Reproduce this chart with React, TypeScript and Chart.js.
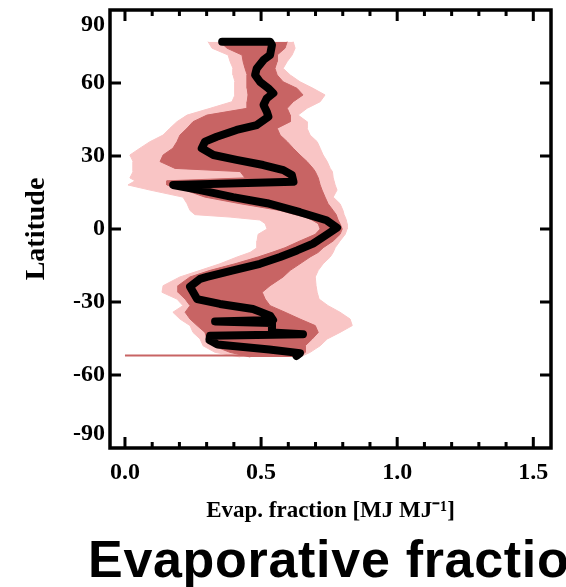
import React, { useEffect, useRef } from 'react';
import { Chart, registerables } from 'chart.js';

Chart.register(...registerables);

// Latitudes (deg) at which the spread bands were read
const bandLat = [77, 74.3, 71.5, 68.8, 66.0, 63.3, 60.5, 57.8, 55.1, 52.3,
  49.6, 46.8, 44.1, 41.4, 38.6, 35.9, 33.2, 30.4, 27.7, 24.9,
  23.6, 21.0, 19.8, 18.1, 16.0, 13.1, 10.4, 7.6, 5.9, 4.9,
  3.7, 2.2, 0, -2.2, -4.9, -7.7, -9.6, -11.5, -14.3, -17.0,
  -19.7, -23.3, -26.0, -28.8, -31.5, -34.2, -37.0, -39.7, -42.5, -45.2,
  -48.0, -50.7, -52.6];

// Outer (light) band
const lightLow = [0.305, 0.32, 0.379, 0.386, 0.397, 0.397, 0.404, 0.404, 0.404, 0.393,
  0.313, 0.228, 0.191, 0.165, 0.14, 0.092, 0.055, 0.018, 0.03, 0.03,
  0.03, 0.018, 0.037, 0.011, 0.092, 0.213, 0.228, 0.239, 0.257, 0.386,
  0.496, 0.515, 0.522, 0.489, 0.485, 0.485, 0.46, 0.412, 0.349, 0.276,
  0.202, 0.14, 0.136, 0.191, 0.213, 0.176, 0.202, 0.239, 0.25, 0.276,
  0.287, 0.331, 0.423];
const lightHigh = [0.618, 0.625, 0.614, 0.596, 0.581, 0.607, 0.643, 0.691, 0.735, 0.717,
  0.669, 0.636, 0.669, 0.669, 0.68, 0.706, 0.717, 0.728, 0.743, 0.754,
  0.762, 0.765, 0.768, 0.772, 0.779, 0.765, 0.79, 0.801, 0.805, 0.809,
  0.813, 0.816, 0.816, 0.809, 0.79, 0.772, 0.765, 0.754, 0.728, 0.71,
  0.699, 0.702, 0.706, 0.713, 0.746, 0.79, 0.827, 0.835, 0.79, 0.743,
  0.717, 0.68, 0.643];

// Inner (dark) band
const darkLow = [0.349, 0.375, 0.43, 0.434, 0.441, 0.449, 0.449, 0.449, 0.452, 0.449,
  0.449, 0.301, 0.25, 0.228, 0.202, 0.191, 0.176, 0.14, 0.129, 0.184,
  0.423, 0.441, 0.154, 0.154, 0.221, 0.294, 0.423, 0.57, 0.625, 0.662,
  0.687, 0.71, 0.717, 0.699, 0.643, 0.588, 0.54, 0.489, 0.404, 0.313,
  0.239, 0.195, 0.195, 0.221, 0.239, 0.221, 0.239, 0.265, 0.294, 0.301,
  0.324, 0.386, 0.46];
const darkHigh = [0.596, 0.588, 0.559, 0.559, 0.551, 0.559, 0.581, 0.632, 0.654, 0.618,
  0.596, 0.607, 0.607, 0.559, 0.57, 0.596, 0.618, 0.643, 0.669, 0.691,
  0.699, 0.71, 0.713, 0.717, 0.724, 0.735, 0.746, 0.765, 0.776, 0.779,
  0.783, 0.79, 0.798, 0.79, 0.765, 0.728, 0.71, 0.68, 0.643, 0.607,
  0.581, 0.533, 0.504, 0.515, 0.533, 0.588, 0.643, 0.699, 0.71, 0.688,
  0.662, 0.662, 0.643];

// Median curve
const medianLat = [77.0, 77.0, 75.6, 71.5, 69.5, 66.0, 63.3, 60.5, 57.8, 55.8,
  53.7, 51.0, 48.2, 46.1, 42.7, 40.7, 37.9, 35.9, 33.2, 30.4,
  28.4, 26.3, 24.2, 22.2, 19.4, 18.1, 16.0, 13.1, 10.6, 6.9,
  3.6, 0.5, -3.3, -6.0, -8.8, -11.5, -14.3, -17.0, -19.7, -20.5,
  -23.7, -28.8, -30.8, -32.9, -35.6, -37.4, -38.0, -38.6, -42.5, -43.3,
  -43.9, -45.6, -47.5, -49.5, -51.0, -52.2];
const medianVal = [0.357, 0.533, 0.54, 0.533, 0.509, 0.484, 0.478, 0.496, 0.527, 0.545,
  0.521, 0.509, 0.521, 0.527, 0.484, 0.41, 0.337, 0.294, 0.282, 0.325,
  0.41, 0.508, 0.582, 0.613, 0.619, 0.177, 0.276, 0.397, 0.522, 0.643,
  0.74, 0.779, 0.728, 0.691, 0.632, 0.57, 0.496, 0.397, 0.301, 0.276,
  0.239, 0.265, 0.349, 0.47, 0.533, 0.544, 0.331, 0.54, 0.54, 0.654,
  0.3125, 0.31, 0.34, 0.53, 0.643, 0.63];

// Thin base line at the southern edge
const baseLat = [-52.0, -52.0];
const baseVal = [0.0, 0.63];

const xTickValues = [0.0, 0.5, 1.0, 1.5];
const yTickValues = [-90, -60, -30, 0, 30, 60, 90];

const LIGHT = '#F9C5C5';
const DARK = '#C86464';
const SERIF = '"Liberation Serif", "Times New Roman", serif';

const toPts = (lats: number[], vals: number[]) => lats.map((la, i) => ({ x: vals[i], y: la }));

const framePlugin = {
  id: 'frame',
  afterDatasetsDraw(chart: any) {
    const { ctx, chartArea: a, scales } = chart;
    const xs = scales.x;
    const ys = scales.y;
    ctx.save();
    ctx.strokeStyle = '#000';
    ctx.lineWidth = 3.5;
    ctx.strokeRect(a.left, a.top, a.right - a.left, a.bottom - a.top);
    ctx.lineWidth = 3;
    ctx.beginPath();
    for (let i = 0; i <= 15; i++) {
      const v = i / 10;
      const px = xs.getPixelForValue(v);
      const len = i % 5 === 0 ? 11 : 6;
      ctx.moveTo(px, a.bottom);
      ctx.lineTo(px, a.bottom - len);
      ctx.moveTo(px, a.top);
      ctx.lineTo(px, a.top + len);
    }
    for (const v of yTickValues) {
      if (Math.abs(v) === 90) continue;
      const py = ys.getPixelForValue(v);
      ctx.moveTo(a.left, py);
      ctx.lineTo(a.left + 11, py);
      ctx.moveTo(a.right, py);
      ctx.lineTo(a.right - 11, py);
    }
    ctx.stroke();
    ctx.restore();
  },
};

export default function App() {
  const ref = useRef<HTMLCanvasElement>(null);

  useEffect(() => {
    if (!ref.current) return;
    const tickFont = { family: SERIF, size: 24, weight: 'bold' as const };
    const chart = new Chart(ref.current, {
      type: 'line',
      data: {
        datasets: [
          {
            data: toPts(medianLat, medianVal),
            borderColor: '#000',
            borderWidth: 8,
            borderJoinStyle: 'round',
            borderCapStyle: 'round',
            pointRadius: 0,
            fill: false,
          },
          {
            data: toPts(baseLat, baseVal),
            borderColor: DARK,
            borderWidth: 2,
            pointRadius: 0,
            fill: false,
          },
          {
            data: toPts(bandLat, darkLow),
            borderColor: DARK,
            backgroundColor: DARK,
            borderWidth: 1,
            pointRadius: 0,
            fill: '+1',
          },
          {
            data: toPts(bandLat, darkHigh),
            borderColor: DARK,
            borderWidth: 1,
            pointRadius: 0,
            fill: false,
          },
          {
            data: toPts(bandLat, lightLow),
            borderColor: LIGHT,
            backgroundColor: LIGHT,
            borderWidth: 1,
            pointRadius: 0,
            fill: '+1',
          },
          {
            data: toPts(bandLat, lightHigh),
            borderColor: LIGHT,
            borderWidth: 1,
            pointRadius: 0,
            fill: false,
          },
        ] as any,
      },
      options: {
        responsive: false,
        animation: false,
        indexAxis: 'y',
        devicePixelRatio: 1,
        layout: { padding: { left: 0, top: 10, right: 15, bottom: 0 } },
        plugins: { legend: { display: false }, tooltip: { enabled: false } },
        scales: {
          x: {
            type: 'linear',
            position: 'bottom',
            min: -0.055,
            max: 1.565,
            grid: { display: false, drawTicks: false },
            border: { display: false },
            afterBuildTicks: (s: any) => {
              s.ticks = xTickValues.map((v) => ({ value: v }));
            },
            afterFit: (s: any) => {
              s.height = 139;
              s.paddingLeft = 0;
              s.paddingRight = 0;
            },
            ticks: {
              autoSkip: false,
              maxRotation: 0,
              padding: 10,
              color: '#000',
              font: tickFont,
              callback: (v: any) => Number(v).toFixed(1),
            },
            title: {
              display: true,
              text: 'Evap. fraction [MJ MJ\u207B\u00B9]',
              color: '#000',
              font: { family: SERIF, size: 23, weight: 'bold' },
              padding: { top: 0, bottom: 62 },
            },
          },
          y: {
            type: 'linear',
            position: 'left',
            min: -90,
            max: 90,
            grid: { display: false, drawTicks: false },
            border: { display: false },
            afterBuildTicks: (s: any) => {
              s.ticks = yTickValues.map((v) => ({ value: v }));
            },
            afterFit: (s: any) => {
              s.width = 110;
              s.paddingTop = 0;
              s.paddingBottom = 0;
            },
            ticks: {
              autoSkip: false,
              padding: 5,
              color: '#000',
              font: tickFont,
              callback: (v: any) => (v === 90 ? ['', '90'] : v === -90 ? ['-90', ''] : String(v)),
            },
            title: {
              display: true,
              text: 'Latitude',
              color: '#000',
              font: { family: SERIF, size: 28, weight: 'bold' },
              padding: { top: 20, bottom: 0 },
            },
          },
        },
      } as any,
      plugins: [framePlugin],
    });
    return () => chart.destroy();
  }, []);

  return (
    <div
      style={{
        position: 'fixed',
        left: 0,
        top: 0,
        width: 566,
        height: 587,
        overflow: 'hidden',
        background: '#fff',
      }}
    >
      <canvas
        ref={ref}
        width={566}
        height={587}
        style={{ position: 'absolute', left: 0, top: 0, width: 566, height: 587 }}
      />
      <div
        style={{
          position: 'absolute',
          left: 88,
          top: 533,
          font: 'bold 52px "Liberation Sans", Arial, sans-serif',
          lineHeight: '52px',
          letterSpacing: '0.7px',
          whiteSpace: 'nowrap',
          color: '#000',
        }}
      >
        Evaporative fraction
      </div>
    </div>
  );
}
